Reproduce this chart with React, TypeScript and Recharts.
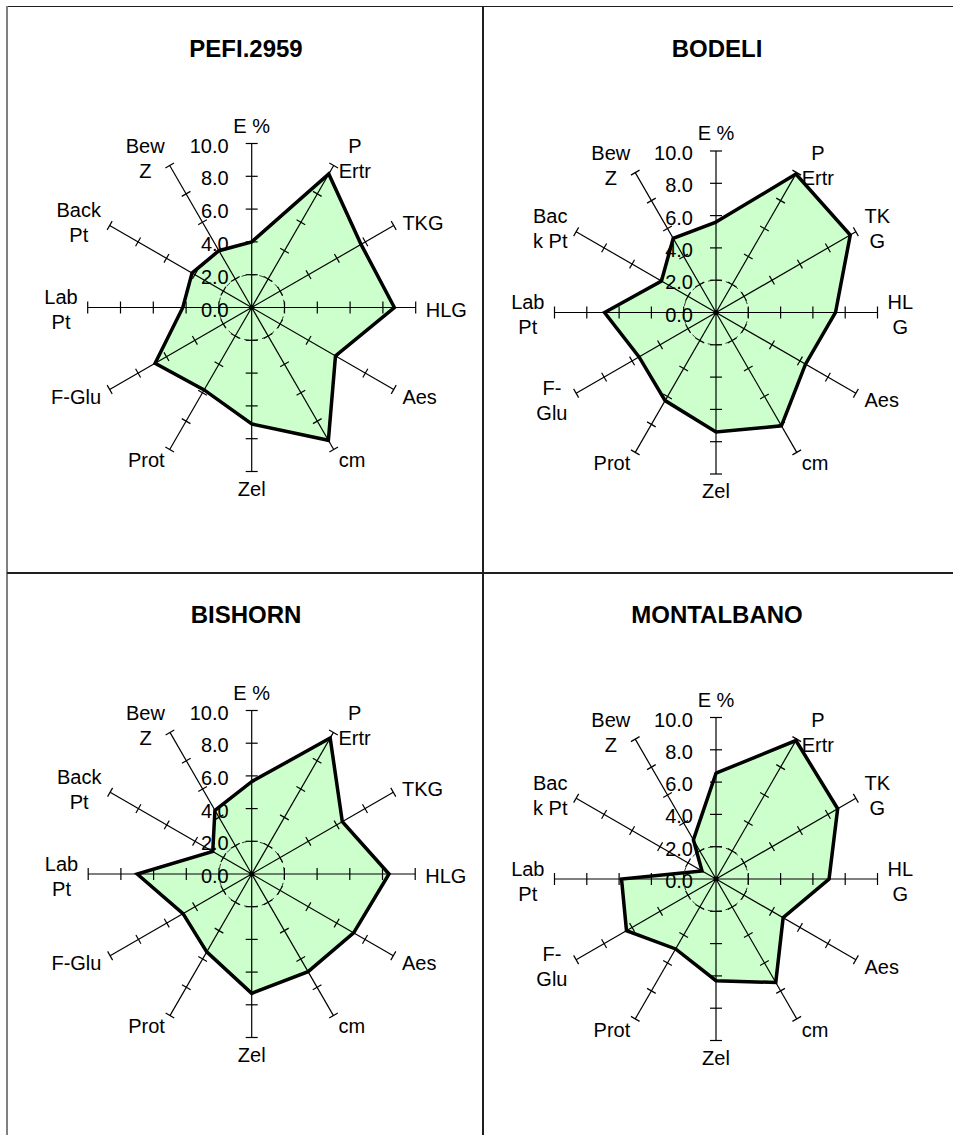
import React from "react";
import { RadarChart, Radar, PolarAngleAxis, PolarRadiusAxis } from "recharts";

// categories (line breaks as they wrap in each column)
const categoriesWide = ["E %", "P\nErtr", "TKG", "HLG", "Aes", "cm", "Zel", "Prot", "F-Glu", "Lab\nPt", "Back\nPt", "Bew\nZ"];
const categoriesNarrow = ["E %", "P\nErtr", "TK\nG", "HL\nG", "Aes", "cm", "Zel", "Prot", "F-\nGlu", "Lab\nPt", "Bac\nk Pt", "Bew\nZ"];

// series values, same order as the categories
const pefiValues = [4.0, 9.4, 7.7, 8.7, 5.9, 9.35, 7.1, 5.8, 6.8, 4.2, 4.2, 4.0];
const bodeliValues = [5.6, 9.9, 9.6, 7.4, 6.4, 8.1, 7.4, 6.3, 5.5, 6.9, 3.9, 5.3];
const bishornValues = [5.65, 9.6, 6.4, 8.4, 7.2, 6.9, 7.3, 5.5, 4.85, 7.0, 2.75, 4.5];
const montalbanoValues = [6.55, 9.9, 8.7, 7.0, 4.8, 7.4, 6.3, 5.0, 6.4, 5.85, 1.0, 2.8];

// radius axis ticks
const radiusTicks = [0, 2, 4, 6, 8, 10];

const FONT = '"Liberation Sans", Arial, sans-serif';
const LABEL_SIZE = 20;
const LINE_H = 25;

let measureCtx: CanvasRenderingContext2D | null = null;
function textWidth(s: string) {
  if (!measureCtx) measureCtx = document.createElement("canvas").getContext("2d");
  if (!measureCtx) return s.length * LABEL_SIZE * 0.55;
  measureCtx.font = `${LABEL_SIZE}px "Liberation Sans"`;
  return measureCtx.measureText(s).width;
}

function CategoryTick(props: any) {
  const { x, y, payload } = props;
  const a = (payload.coordinate * Math.PI) / 180;
  const c = Math.cos(a);
  const s = Math.sin(a);
  const ax = x + 2 * c;
  const ay = y - 2 * s;
  const lines = String(payload.value).split("\n");
  const n = lines.length;
  const w = Math.max(...lines.map(textWidth));
  let anchor: "start" | "middle" | "end" = "middle";
  let tx = ax;
  if (c > 0.3) {
    if (n > 1) tx = ax + w / 2;
    else anchor = "start";
  } else if (c < -0.3) {
    if (n > 1) tx = ax - w / 2;
    else anchor = "end";
  }
  let base;
  if (s > 0.9) base = ay - 1 - (n - 1) * LINE_H;
  else if (s < -0.9) base = ay + 14;
  else base = ay + 9 - ((n - 1) * LINE_H) / 2;
  return (
    <text x={tx} textAnchor={anchor} fontSize={LABEL_SIZE} fontFamily={FONT} fill="#000">
      {lines.map((l, i) => (
        <tspan key={i} x={tx} y={base + i * LINE_H}>
          {l}
        </tspan>
      ))}
    </text>
  );
}

// tick of the E % radius axis: draws the value label, and the spokes with
// their cross ticks at the same radius for every category angle
function makeAxisTick(angles: number[]) {
  return (props: any) => {
    const { x, y, payload } = props;
    const v = payload.value;
    const r = payload.coordinate;
    const cx = x;
    const cy = y + r;
    const isMax = v === radiusTicks[radiusTicks.length - 1];
    return (
      <g>
        {v === radiusTicks[1] && (
          <circle cx={cx} cy={cy} r={r} fill="none" stroke="#333" strokeWidth={1} strokeDasharray="5 4" />
        )}
        {angles.map((angle, i) => {
          const rad = (angle * Math.PI) / 180;
          const c = Math.cos(rad);
          const s = Math.sin(rad);
          const px = cx + r * c;
          const py = cy - r * s;
          const h = Math.abs(angle) % 90 === 0 ? 6 : 5;
          return (
            <g key={i}>
              {isMax && <line x1={cx} y1={cy} x2={px} y2={py} stroke="#000" strokeWidth={1.2} />}
              {v > 0 && (
                <line x1={px - h * s} y1={py - h * c} x2={px + h * s} y2={py + h * c} stroke="#000" strokeWidth={1.2} />
              )}
            </g>
          );
        })}
        {v === 0 && <circle cx={cx} cy={cy} r={2.5} fill="#000" />}
        <text x={x - 23} y={y + 9} textAnchor="end" fontSize={LABEL_SIZE} fontFamily={FONT} fill="#000">
          {v.toFixed(1)}
        </text>
      </g>
    );
  };
}

interface PanelProps {
  title: string;
  categories: string[];
  values: number[];
  left: number;
  top: number;
  cx: number;
  cy: number;
  r: number;
  titleX: number;
}

function Panel({ title, categories, values, left, top, cx, cy, r, titleX }: PanelProps) {
  const data = categories.map((name, i) => ({ name, value: values[i] }));
  const angles = categories.map((_, i) => 90 - (i * 360) / categories.length);
  const W = 474;
  const H = 564;
  return (
    <div style={{ position: "absolute", left, top, width: W, height: H }}>
      <div
        style={{
          position: "absolute",
          left: titleX - 200,
          width: 400,
          top: 41 - 12,
          textAlign: "center",
          fontFamily: FONT,
          fontWeight: "bold",
          fontSize: 24,
          lineHeight: "24px",
          color: "#000",
        }}
      >
        {title}
      </div>
      <div style={{ position: "absolute", left: 0, top: 0 }}>
        <RadarChart
          width={W}
          height={H}
          data={data}
          cx={cx}
          cy={cy}
          outerRadius={r}
          innerRadius={0}
          margin={{ top: 0, right: 0, bottom: 0, left: 0 }}
        >
          <Radar
            dataKey="value"
            stroke="#000"
            strokeWidth={3.5}
            fill="#ccffcc"
            fillOpacity={1}
            dot={false}
            isAnimationActive={false}
          />
          <PolarAngleAxis dataKey="name" axisLine={false} tickLine={false} tick={CategoryTick} />
          <PolarRadiusAxis
            angle={90}
            type="number"
            domain={[radiusTicks[0], radiusTicks[radiusTicks.length - 1]]}
            tickCount={radiusTicks.length}
            axisLine={false}
            tick={makeAxisTick(angles)}
          />
        </RadarChart>
      </div>
    </div>
  );
}

export default function App() {
  const line = "#1f1f1f";
  return (
    <div style={{ position: "absolute", left: 0, top: 0, width: 953, height: 1135, overflow: "hidden", background: "#fff" }}>
      <div style={{ position: "absolute", left: 7, top: 5.5, width: 946, height: 1.5, background: line }} />
      <div style={{ position: "absolute", left: 6, top: 6, width: 1.5, height: 1129, background: "#808080" }} />
      <div style={{ position: "absolute", left: 482, top: 6, width: 2, height: 1129, background: line }} />
      <div style={{ position: "absolute", left: 7, top: 572, width: 946, height: 2, background: line }} />

      <Panel title="PEFI.2959" categories={categoriesWide} values={pefiValues} left={8} top={8} cx={243.7} cy={299.5} r={164} titleX={238} />
      <Panel title="BODELI" categories={categoriesNarrow} values={bodeliValues} left={484} top={8} cx={232} cy={304.5} r={161.5} titleX={233} />
      <Panel title="BISHORN" categories={categoriesWide} values={bishornValues} left={8} top={574} cx={243.7} cy={300} r={163.5} titleX={238} />
      <Panel title="MONTALBANO" categories={categoriesNarrow} values={montalbanoValues} left={484} top={574} cx={232} cy={305} r={161.5} titleX={233} />
    </div>
  );
}
